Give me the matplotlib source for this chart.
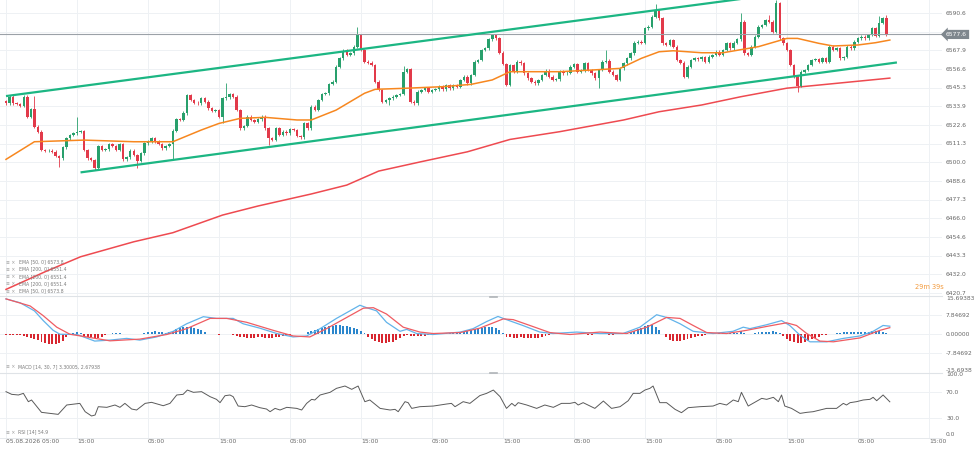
import matplotlib
matplotlib.use("Agg")
import matplotlib.pyplot as plt
import matplotlib.transforms as mtransforms
from matplotlib.lines import Line2D

# ---- data (30 min candles, index = candle number) ----
first_open = 6537.0
closes = [
    6535.8, 6539.8, 6535.8, 6535.4, 6534.2, 6539.8, 6527.7, 6532.1, 6521.6, 6518.6,
    6507.4, 6506.8, 6507.0, 6506.4, 6503.8, 6502.4, 6509.1, 6514.5, 6516.6, 6517.6,
    6518.4, 6519.0, 6507.4, 6502.4, 6501.4, 6496.7, 6509.9, 6507.4, 6507.9, 6511.1,
    6509.9, 6507.4, 6511.1, 6501.8, 6503.0, 6507.0, 6504.4, 6501.0, 6505.4, 6511.5,
    6512.5, 6514.5, 6512.5, 6511.1, 6508.5, 6509.9, 6511.1, 6519.2, 6526.1, 6525.7,
    6529.7, 6540.8, 6537.8, 6536.2, 6535.8, 6538.8, 6536.8, 6532.7, 6531.3, 6531.7,
    6527.7, 6538.8, 6539.4, 6541.4, 6539.8,
    6531.7, 6520.6, 6522.0, 6527.7, 6525.7, 6524.6, 6526.0, 6527.7, 6520.6, 6514.5,
    6513.5, 6520.6, 6516.6, 6518.6, 6517.6, 6520.0, 6519.6, 6516.0, 6515.1, 6523.6,
    6520.6, 6533.8, 6531.7, 6537.8, 6541.4, 6541.9, 6547.5, 6548.9, 6558.0, 6563.1,
    6567.7, 6565.1, 6566.1, 6570.2, 6577.2, 6568.2, 6561.1, 6560.5, 6559.0, 6548.9,
    6543.9, 6536.8, 6537.8, 6538.8, 6539.8, 6540.8, 6541.5, 6555.0, 6556.4, 6536.8,
    6535.8, 6542.9, 6543.9, 6544.9, 6542.9, 6543.9, 6544.3, 6545.9, 6544.3, 6546.9,
    6544.9, 6546.9, 6545.9, 6549.9, 6552.0, 6547.9,
    6553.0, 6561.1, 6562.1, 6568.2, 6569.2, 6574.6, 6577.3, 6575.2, 6566.5, 6559.7,
    6546.9, 6559.0, 6555.0, 6561.1, 6560.1, 6554.0, 6551.0, 6549.0, 6547.9, 6550.0,
    6553.0, 6555.6, 6552.0, 6550.0, 6550.4, 6555.0, 6554.0, 6554.4, 6558.0, 6559.5,
    6555.0, 6555.6, 6560.1, 6556.0, 6554.0, 6551.0, 6556.0, 6561.1, 6561.7, 6555.0,
    6553.0, 6550.0, 6557.0, 6560.1, 6563.1, 6566.1, 6572.6, 6573.2, 6572.4, 6581.3,
    6582.3, 6588.4, 6592.4, 6587.4, 6572.2, 6571.2, 6574.2, 6570.2, 6562.1, 6560.5,
    6552.0, 6558.0, 6562.1, 6563.1, 6562.5, 6563.7,
    6561.1, 6564.1, 6565.1, 6567.1, 6565.1, 6568.2, 6572.2, 6569.2, 6572.6, 6574.6,
    6585.4, 6566.1, 6565.1, 6570.2, 6576.2, 6582.3, 6583.3, 6586.4, 6585.4, 6579.3,
    6596.5, 6575.2, 6572.2, 6568.2, 6559.0, 6552.0, 6546.3, 6555.0, 6556.0, 6559.1,
    6562.1, 6562.5, 6561.1, 6563.1, 6561.1, 6570.2, 6568.2, 6569.2, 6563.1, 6564.0,
    6570.2, 6569.2, 6573.2, 6575.2, 6576.2, 6575.2, 6577.3, 6581.3, 6576.7, 6584.7,
    6587.4, 6577.6,
]
# notable wick extremes (index: price)
wick_high = {6: 6540.8, 8: 6540.0, 20: 6527.7, 50: 6531.0, 62: 6547.9, 99: 6582.3,
             112: 6558.5, 169: 6568.2, 183: 6596.1, 207: 6590.4, 215: 6589.4,
             217: 6598.3, 218: 6597.5, 246: 6588.5, 248: 6589.4}
wick_low = {15: 6497.3, 25: 6495.5, 37: 6496.5, 47: 6501.8, 61: 6523.6, 74: 6510.5,
            95: 6562.1, 108: 6534.8, 167: 6545.0, 223: 6542.9}

ema50_x = [0, 8, 22, 36, 47, 55, 60, 66, 73, 82, 86, 93, 101, 104, 112, 123, 131, 137,
           142, 156, 165, 173, 179, 184, 188, 196, 202, 212, 220, 223, 229, 233, 240, 245, 249]
ema50_y = [6501.8, 6512.5, 6513.5, 6512.5, 6512.5, 6519.6, 6523.6, 6526.7, 6527.3, 6525.7,
           6525.7, 6531.7, 6541.9, 6544.3, 6544.9, 6545.9, 6547.3, 6550.0, 6555.0, 6555.0,
           6556.0, 6557.0, 6563.1, 6567.1, 6567.7, 6566.5, 6566.5, 6570.2, 6575.2, 6575.2,
           6572.2, 6570.6, 6571.2, 6572.6, 6574.2]
ema200_x = [0, 11, 21, 36, 47, 61, 71, 86, 96, 105, 117, 130, 142, 156, 174, 184, 196, 207, 220, 249]
ema200_y = [6422.9, 6433.6, 6442.7, 6451.8, 6457.3, 6468.0, 6473.5, 6480.8, 6486.2, 6494.7,
            6500.4, 6506.4, 6513.9, 6518.6, 6525.7, 6530.7, 6534.8, 6539.8, 6545.0, 6551.1]

# trend channel (two hand drawn lines)
upper_x, upper_y = [0, 215], [6540.2, 6601.4]
lower_x, lower_y = [21, 251], [6493.9, 6560.6]

macd_x = [0, 4, 8, 10.5, 13.3, 15.2, 20, 25, 29.3, 34, 37.7, 42.4, 47.1, 50.9, 55.6, 59.3, 64,
          66.8, 71.5, 76.3, 80.9, 84.7, 88.5, 93.1, 96.9, 99.7, 101.6, 104.4, 107.2, 111, 112.9,
          115.7, 120.3, 125, 128, 131.6, 135.4, 138.6, 141, 145.6, 150.4, 154.1, 160.8, 167.3,
          173.8, 178.6, 183.3, 186.1, 189.9, 193.6, 199.2, 204.8, 207.7, 209.6, 214.3, 218.5,
          220.8, 223.7, 226.5, 231.2, 235.9, 240.6, 244.3, 247.1, 249]
macd_v = [14.5, 12.9, 9.6, 5.6, 1.6, 0.0, -0.1, -2.8, -2.4, -1.7, -2.4, -1.1, 1.2, 4.3, 7.2, 6.5,
          6.5, 4.3, 2.5, 0.3, -1.1, -0.7, 2.3, 6.5, 9.6, 11.9, 10.9, 9.6, 4.9, 1.2, 2.0, 0.3, -0.1,
          0.5, 0.9, 2.3, 5.2, 7.3, 6.0, 3.6, 0.9, 0.3, 0.9, 0.3, 0.3, 2.9, 8.0, 6.9, 4.3, 1.2, 0.3,
          1.2, 2.9, 2.3, 3.9, 5.6, 3.6, -0.4, -3.1, -3.1, -1.7, -0.7, 1.2, 3.6, 3.3]
signal_x = [0, 6.8, 10.5, 14.3, 18, 22.7, 29.3, 37.7, 45.3, 50.9, 57.5, 62.2, 67.8, 75.3, 80.9,
            85.6, 90.3, 96, 100.7, 103.5, 107.2, 111.9, 116.6, 120.3, 128, 133.5, 140.1, 142.9,
            147.6, 153.2, 158.9, 167.3, 174.8, 180.5, 186.1, 189.9, 193.6, 197.4, 203, 208.6,
            214.3, 219.9, 222.7, 225.6, 229.3, 233.1, 240.6, 246.2, 249]
signal_v = [14.5, 11.6, 7.6, 2.9, 0.0, -1.1, -2.7, -2.0, -0.1, 2.3, 6.5, 6.5, 4.9, 1.6, -0.7,
            -1.1, 2.3, 6.9, 10.7, 10.9, 8.3, 2.9, 0.9, 0.3, 0.7, 2.5, 6.3, 6.0, 3.6, 0.7, -0.1,
            0.9, 0.3, 2.9, 6.9, 6.5, 3.6, 0.7, 0.3, 1.6, 3.2, 4.7, 3.6, 0.3, -2.8, -3.1, -1.5,
            1.6, 2.7]
macd_hist = [
    -0.4, -0.4, -0.4, -0.4, -0.4, -0.8, -1.1, -1.5, -2.0, -2.5,
    -3.0, -3.5, -3.9, -4.1, -4.0, -3.6, -2.6, -1.2, 0.3, 0.6,
    0.8, 0.5, -0.6, -1.0, -1.3, -1.6, -1.4, -1.0, -0.5, 0.3,
    0.5, 0.6, 0.4, 0.2, 0.1, 0.0, 0.1, 0.2, 0.3, 0.5,
    0.8, 1.0, 1.2, 1.1, 0.9, 0.7, 0.9, 1.5, 2.0, 2.5,
    2.8, 2.9, 2.8, 2.6, 2.2, 1.6, 0.9, 0.3, 0.0, -0.1,
    -0.2, 0.0, 0.1, 0.0, -0.3, -0.8, -1.1, -1.3, -1.4, -1.5,
    -1.4, -1.3, -1.3, -1.4, -1.5, -1.4, -1.2, -1.0, -0.7, -0.4,
    -0.2, 0.0, 0.1, 0.2, 0.3, 0.8, 1.3, 1.8, 2.3, 2.7,
    3.0, 3.3, 3.5, 3.6, 3.6, 3.5, 3.3, 3.0, 2.7, 2.3,
    1.5, 0.4, -1.0, -2.0, -2.8, -3.3, -3.5, -3.5, -3.3, -3.0,
    -2.4, -1.6, -0.8, -0.4, -0.6, -0.8, -0.8, -0.7, -0.6, -0.4,
    -0.2, 0.1, 0.3, 0.4, 0.5, 0.5, 0.5, 0.6, 0.7, 1.0,
    1.3, 1.6, 2.0, 2.3, 2.6, 2.8, 2.9, 2.9, 2.6, 1.8,
    0.6, -1.0, -1.3, -1.4, -1.4, -1.3, -1.4, -1.4, -1.5, -1.5,
    -1.4, -1.0, -0.7, -0.4, 0.1, 0.0, -0.1, 0.1, 0.2, 0.2,
    0.3, 0.2, 0.1, -0.1, -0.2, -0.4, -0.1, 0.1, 0.1, 0.0,
    -0.2, -0.3, -0.1, 0.2, 0.4, 0.6, 1.0, 1.5, 2.0, 2.6,
    3.2, 3.6, 3.6, 3.0, 1.8, 0.2, -1.2, -2.2, -2.8, -2.9,
    -2.6, -2.2, -1.8, -1.5, -1.2, -0.9, -0.6, -0.3, -0.1, 0.2,
    0.3, 0.4, 0.4, 0.5, 0.5, 0.6, 0.7, 1.2, 0.6, 0.3,
    0.3, 0.5, 0.8, 1.0, 1.0, 0.9, 1.2, 0.8, 0.4, -0.8,
    -1.8, -2.6, -3.2, -3.7, -3.6, -3.2, -2.7, -2.1, -1.5, -1.0,
    -0.5, -0.2, 0.1, 0.3, 0.5, 0.7, 0.8, 0.9, 0.9, 0.9,
    1.0, 1.0, 1.1, 1.1, 1.2, 1.2, 1.2, 1.0, 0.6,
]

rsi_x = [0, 1.6, 3.5, 4.9, 6.3, 7.2, 10, 12.4, 14.7, 17.1, 20.8, 22.3, 24.1, 25.1, 26, 28.4,
         30.7, 32.1, 33.5, 35.4, 36.8, 39.2, 41, 44.3, 46.2, 48.1, 49.9, 51.1, 52.8, 55.1, 57.5,
         59.3, 60.3, 61.7, 63.1, 64, 65.4, 67.3, 69.2, 71.5, 73.4, 74.4, 75.8, 77.2, 79.1, 81.9,
         83.3, 84.7, 86.1, 87, 88.5, 91.3, 93.1, 95.5, 97.4, 99.2, 101.1, 102.5, 105.4, 108.2,
         109.6, 110.5, 112.4, 113.3, 114.3, 116.6, 120.4, 124.1, 125.5, 126.5, 128.8, 130.7,
         133.5, 135.4, 137.3, 139.2, 141, 142.5, 143.4, 144.3, 146.7, 149.5, 151.8, 154.2, 156.5,
         158.9, 160.3, 161.2, 162.6, 165.9, 168.3, 170.6, 173, 175.3, 176.7, 178.6, 180, 181.4,
         182.3, 184.2, 186.1, 188.5, 190.3, 192.2, 195.5, 199.2, 201.1, 203, 204.9, 206.3, 207.2,
         209.1, 212.9, 214.3, 216.2, 217.6, 218.5, 219.4, 221.3, 223.7, 225.6, 227.4, 231.2, 234,
         235.9, 236.8, 237.8, 239.6, 241.5, 243.4, 244.3, 245.3, 247.1, 249]
rsi_v = [70.5, 66.4, 65.4, 67.9, 55.1, 57.7, 38.7, 37.1, 35.6, 50.0, 52.5, 39.7, 33.1, 34.6,
         47.4, 46.4, 50.0, 46.4, 52.5, 43.8, 42.3, 52.5, 54.1, 48.9, 52.5, 65.4, 66.4, 73.0, 69.5,
         70.5, 62.8, 58.7, 53.6, 64.3, 65.4, 62.8, 48.4, 47.4, 50.0, 45.9, 43.8, 39.7, 44.8, 42.3,
         46.4, 44.8, 42.3, 52.5, 58.7, 57.7, 65.4, 69.5, 75.6, 79.2, 74.1, 79.2, 55.1, 57.7, 44.8,
         42.3, 43.3, 39.7, 55.1, 53.6, 44.8, 47.4, 48.4, 51.5, 52.5, 47.4, 55.1, 52.5, 64.5, 67.9,
         73.0, 62.8, 44.8, 52.5, 48.4, 53.6, 50.0, 44.8, 50.0, 46.4, 52.5, 52.5, 54.1, 50.0, 53.6,
         44.8, 56.1, 44.8, 47.4, 56.6, 67.9, 67.9, 73.0, 75.6, 79.2, 53.6, 53.6, 43.3, 38.2, 45.9,
         47.4, 48.4, 52.5, 50.0, 57.7, 55.1, 69.5, 48.4, 60.2, 58.7, 61.8, 55.1, 65.4, 48.4, 44.8,
         37.1, 38.7, 39.7, 44.8, 44.8, 52.5, 50.0, 53.6, 55.1, 57.7, 58.7, 61.8, 56.6, 65.4, 54.9]

price_ticks = [6590.6, 6579.3, 6567.9, 6556.6, 6545.3, 6533.9, 6522.6, 6511.3, 6500.0,
               6488.6, 6477.3, 6466.0, 6454.6, 6443.3, 6432.0, 6420.7]
macd_ticks = [15.69383, 7.84692, 0.0, -7.84692, -15.6938]
macd_labels = ["15.69383", "7.84692", "0.00000", "-7.84692", "-15.6938"]
rsi_ticks = [100, 70, 30, 0]
time_ticks = list(range(0, 261, 20))
time_labels = ["05.08.2026 05:00"] + ["15:00" if k % 2 else "05:00" for k in range(1, 14)]
last_price = 6577.6
legend_lines = ["EMA [50, 0] 6573.8", "EMA [200, 0] 6551.4", "EMA [200, 0] 6551.4",
                "EMA [200, 0] 6551.4", "EMA [50, 0] 6573.8"]

# ---- colours ----
UP, DOWN = "#28a06c", "#e23a4a"
GRID = "#eef1f4"
LABEL = "#666666"

W, H = 976, 453
fig = plt.figure(figsize=(W / 100, H / 100), dpi=100)


def rect(top, bottom, right=942):
    return [0, 1 - bottom / H, right / W, (bottom - top) / H]


ax_p = fig.add_axes(rect(0, 296))
ax_m = fig.add_axes(rect(296, 372.5), sharex=ax_p)
ax_r = fig.add_axes(rect(372.5, 437.5), sharex=ax_p)

for ax in (ax_p, ax_m, ax_r):
    ax.set_xticks([])
    ax.set_yticks([])
    for s in ax.spines.values():
        s.set_visible(False)
    for t in time_ticks:
        ax.axvline(t, color=GRID, lw=0.7, zorder=0)
for ax in (ax_m, ax_r):
    ax.spines["top"].set_visible(True)
    ax.spines["top"].set_color("#dfe3e7")
    ax.spines["top"].set_linewidth(0.8)
ax_r.spines["bottom"].set_visible(True)
ax_r.spines["bottom"].set_color("#e6e9ec")
ax_r.spines["bottom"].set_linewidth(0.7)

ax_p.set_xlim(-1.69, 263.7)
ax_p.set_ylim(6418.9, 6598.5)
ax_m.set_ylim(-15.69, 15.69)
ax_r.set_ylim(0, 100)

# ---- price panel ----
for v in price_ticks:
    ax_p.axhline(v, color=GRID, lw=0.7, zorder=0)

idx = list(range(len(closes)))
opens = [first_open] + closes[:-1]
cols = [UP if c >= o else DOWN for o, c in zip(opens, closes)]
bottoms = [min(o, c) for o, c in zip(opens, closes)]
heights = [max(abs(c - o), 0.35) for o, c in zip(opens, closes)]
highs = [wick_high.get(i, max(o, c) + 0.8) for i, (o, c) in enumerate(zip(opens, closes))]
lows = [wick_low.get(i, min(o, c) - 0.8) for i, (o, c) in enumerate(zip(opens, closes))]

ax_p.vlines(idx, lows, highs, colors=cols, lw=0.6, zorder=3)
ax_p.bar(idx, heights, bottom=bottoms, width=0.7, color=cols, lw=0, zorder=4)

ax_p.plot(ema200_x, ema200_y, color="#ee4a50", lw=1.1, zorder=2)
ax_p.plot(ema50_x, ema50_y, color="#f7871f", lw=1.1, zorder=5)
ax_p.plot(upper_x, upper_y, color="#1cb683", lw=1.6, zorder=6, solid_capstyle="butt")
ax_p.plot(lower_x, lower_y, color="#1cb683", lw=1.6, zorder=6, solid_capstyle="butt")

ax_p.axhline(last_price, color="#9ba1a7", lw=0.8, zorder=5)

tr_p = mtransforms.blended_transform_factory(ax_p.transAxes, ax_p.transData)
for v in price_ticks:
    if abs(v - last_price) < 5:
        continue  # hidden behind the last-price tag in the original
    ax_p.text(1.0043, v, f"{v:.1f}", transform=tr_p, ha="left", va="center",
              fontsize=4.3, color=LABEL, clip_on=False)
ax_p.text(1.0043, last_price, f"{last_price:.1f}", transform=tr_p, ha="left", va="center",
          fontsize=4.3, color="white", clip_on=False, zorder=10,
          bbox=dict(boxstyle="larrow,pad=0.35", fc="#7f878e", ec="none"))

# ---- MACD panel ----
for v in (7.84692, 0.0, -7.84692):
    ax_m.axhline(v, color=GRID, lw=0.7, zorder=0)
hcols = ["#2b86cc" if h >= 0 else "#d8262f" for h in macd_hist]
ax_m.bar(range(len(macd_hist)), macd_hist, width=0.55, color=hcols, lw=0, zorder=2)
ax_m.plot(macd_x, macd_v, color="#62b3ea", lw=0.9, zorder=3)
ax_m.plot(signal_x, signal_v, color="#ef5c62", lw=0.9, zorder=3)

tr_m = mtransforms.blended_transform_factory(ax_m.transAxes, ax_m.transData)
for v, lab in zip(macd_ticks, macd_labels):
    va = "top" if v > 10 else ("bottom" if v < -10 else "center")
    ax_m.text(1.0043, v, lab, transform=tr_m, ha="left", va=va,
              fontsize=4.3, color=LABEL, clip_on=False)

# ---- RSI panel ----
for v in (70, 30):
    ax_r.axhline(v, color=GRID, lw=0.7, zorder=0)
ax_r.plot(rsi_x, rsi_v, color="#5a5a5a", lw=0.7, zorder=3)
tr_r = mtransforms.blended_transform_factory(ax_r.transAxes, ax_r.transData)
for v in rsi_ticks:
    va = "top" if v == 100 else ("bottom" if v == 0 else "center")
    ax_r.text(1.0043, v, f"{v:.1f}", transform=tr_r, ha="left", va=va,
              fontsize=4.3, color=LABEL, clip_on=False)

# time axis labels (left aligned on the grid lines)
tr_x = mtransforms.blended_transform_factory(ax_r.transData, ax_r.transAxes)
for t, lab in zip(time_ticks, time_labels):
    ax_r.text(t, -0.055, lab, transform=tr_x, ha="left", va="center",
              fontsize=4.3, color=LABEL, clip_on=False)

# ---- indicator legends ----
for k, lab in enumerate(legend_lines):
    y = 1 - (262 + 7.3 * k) / H
    fig.text(6 / W, y, "≡ ×", fontsize=3.3, color="#9a9a9a", va="center")
    fig.text(19 / W, y, lab, fontsize=3.3, color="#7a7a7a", va="center")
fig.text(6 / W, 1 - 366.5 / H, "≡ ×", fontsize=3.3, color="#9a9a9a", va="center")
fig.text(18 / W, 1 - 366.5 / H, "MACD [14, 30, 7] 3.30005, 2.67938", fontsize=3.3,
         color="#7a7a7a", va="center")
fig.text(6 / W, 1 - 432 / H, "≡ ×", fontsize=3.3, color="#9a9a9a", va="center")
fig.text(18 / W, 1 - 432 / H, "RSI [14] 54.9", fontsize=3.3, color="#7a7a7a", va="center")

# candle countdown
fig.text(915 / W, 1 - 287 / H, "29m 39s", fontsize=4.8, color="#f39a3c", va="center")

# small panel resize handles
for yy in (297, 373):
    fig.add_artist(Line2D([490 / W, 497 / W], [1 - yy / H] * 2, color="#b0b4b8", lw=1.2))

fig.savefig("out.png", dpi=100)
